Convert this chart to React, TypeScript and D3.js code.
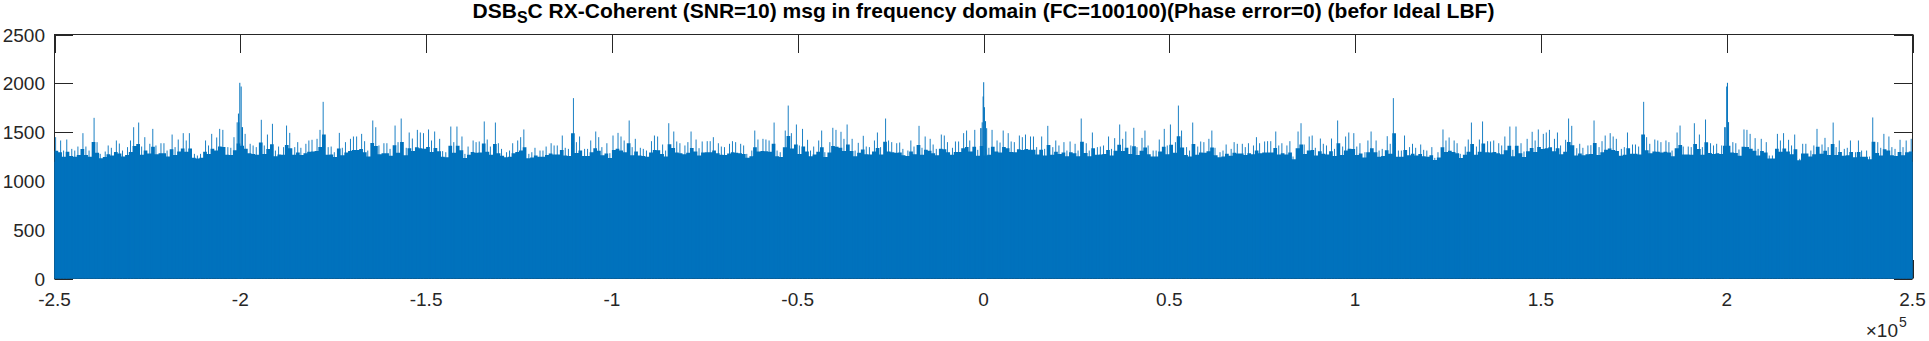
import React from 'react';
import * as d3 from 'd3';

// ---------- text ----------
const titleMain = 'DSB';
const titleSub = 'S';
const titleRest = 'C RX-Coherent (SNR=10) msg in frequency domain (FC=100100)(Phase error=0) (befor Ideal LBF)';

// ---------- axes ----------
const xTickValues = [-2.5, -2, -1.5, -1, -0.5, 0, 0.5, 1, 1.5, 2, 2.5]; // x 1e5 Hz
const xTickLabels = ['-2.5', '-2', '-1.5', '-1', '-0.5', '0', '0.5', '1', '1.5', '2', '2.5'];
const yTickValues = [0, 500, 1000, 1500, 2000, 2500];
const yTickLabels = ['0', '500', '1000', '1500', '2000', '2500'];

// ---------- data ----------
// maximum |X(f)| seen in each 1 kHz bin, from -250 kHz to +250 kHz
const binStartKHz = -250;
const binWidthKHz = 1;
const binMax = [
  1448, 1414, 1311, 1424, 1328, 1311, 1352, 1489, 1352, 1311,
  1646, 1397, 1277, 1301, 1363, 1339, 1414, 1383, 1311, 1346,
  1414, 1550, 1598, 1352, 1448, 1380, 1533, 1363, 1386, 1386,
  1311, 1475, 1346, 1424, 1489, 1414, 1489, 1277, 1260, 1277,
  1414, 1363, 1482, 1445, 1533, 1523, 1346, 1339, 1448, 1600,
  1550, 1482, 1380, 1363, 1346, 1626, 1363, 1475, 1585, 1311,
  1352, 1346, 1567, 1492, 1346, 1397, 1339, 1380, 1414, 1421,
  1431, 1523, 1810, 1346, 1352, 1294, 1492, 1339, 1397, 1431,
  1455, 1455, 1482, 1407, 1311, 1619, 1550, 1363, 1386, 1386,
  1328, 1567, 1397, 1639, 1339, 1496, 1434, 1523, 1496, 1489,
  1527, 1414, 1506, 1431, 1305, 1294, 1557, 1397, 1557, 1455,
  1277, 1352, 1414, 1397, 1404, 1609, 1424, 1352, 1598, 1386,
  1328, 1294, 1311, 1386, 1414, 1448, 1527, 1277, 1294, 1339,
  1311, 1311, 1352, 1386, 1363, 1363, 1465, 1339, 1328, 1848,
  1397, 1455, 1328, 1328, 1414, 1506, 1448, 1346, 1386, 1284,
  1465, 1492, 1455, 1414, 1619, 1346, 1431, 1339, 1328, 1311,
  1407, 1465, 1455, 1373, 1311, 1591, 1506, 1404, 1386, 1363,
  1397, 1506, 1424, 1335, 1404, 1407, 1407, 1448, 1386, 1352,
  1346, 1380, 1407, 1397, 1380, 1363, 1277, 1311, 1516, 1424,
  1431, 1424, 1414, 1598, 1311, 1294, 1516, 1772, 1489, 1578,
  1363, 1533, 1421, 1311, 1352, 1414, 1516, 1294, 1397, 1544,
  1523, 1503, 1431, 1578, 1431, 1311, 1390, 1462, 1352, 1346,
  1414, 1496, 1346, 1639, 1414, 1397, 1386, 1393, 1328, 1311,
  1414, 1352, 1564, 1339, 1455, 1431, 1373, 1328, 1475, 1465,
  1397, 1339, 1404, 1404, 1489, 1516, 1414, 1523, 1318, 1540,
  1322, 1339, 1523, 1414, 1393, 1516, 1489, 1404, 1397, 1465,
  1448, 1475, 1455, 1455, 1346, 1455, 1328, 1564, 1346, 1414,
  1363, 1397, 1311, 1404, 1380, 1311, 1639, 1386, 1311, 1496,
  1346, 1352, 1363, 1455, 1328, 1438, 1578, 1431, 1506, 1363,
  1544, 1346, 1441, 1516, 1363, 1311, 1311, 1424, 1533, 1363,
  1578, 1397, 1772, 1516, 1346, 1311, 1598, 1352, 1404, 1397,
  1431, 1516, 1339, 1294, 1311, 1373, 1328, 1397, 1380, 1380,
  1346, 1386, 1363, 1448, 1386, 1404, 1407, 1407, 1506, 1363,
  1386, 1363, 1407, 1250, 1506, 1591, 1373, 1455, 1465, 1339,
  1434, 1380, 1363, 1434, 1328, 1619, 1352, 1455, 1496, 1489,
  1352, 1386, 1294, 1414, 1506, 1414, 1311, 1328, 1458, 1380,
  1848, 1311, 1311, 1465, 1346, 1380, 1339, 1373, 1318, 1311,
  1346, 1236, 1294, 1527, 1414, 1445, 1414, 1386, 1277, 1352,
  1424, 1598, 1352, 1424, 1609, 1407, 1404, 1414, 1386, 1363,
  1455, 1557, 1318, 1557, 1386, 1301, 1431, 1503, 1414, 1527,
  1482, 1496, 1523, 1431, 1496, 1363, 1421, 1639, 1564, 1335,
  1380, 1339, 1363, 1366, 1619, 1346, 1407, 1465, 1489, 1455,
  1431, 1328, 1346, 1496, 1373, 1373, 1352, 1810, 1448, 1380,
  1424, 1414, 1397, 1414, 1397, 1311, 1496, 1567, 1352, 1352,
  1346, 1591, 1475, 1346, 1629, 1386, 1363, 1380, 1363, 1550,
  1550, 1397, 1386, 1322, 1527, 1523, 1482, 1438, 1328, 1431,
  1397, 1260, 1260, 1482, 1414, 1489, 1421, 1363, 1475, 1226,
  1380, 1380, 1311, 1363, 1533, 1373, 1441, 1346, 1598, 1346,
  1414, 1328, 1339, 1414, 1294, 1414, 1311, 1311, 1250, 1650,
  1397, 1339, 1482, 1455, 1346, 1328, 1421, 1346, 1414, 1431,
];

// level below which the spectrum is a solid band
const solidFreqKHz = [-250, -200, -150, -100, -50, 0, 50, 100, 150, 200, 250];
const solidTop = [1195, 1205, 1200, 1195, 1205, 1210, 1200, 1195, 1200, 1205, 1195];

// the strong tones at -200 kHz, 0 and +200 kHz
const peakFreqKHz = [-200.84, -200.5, -200.13, -199.77, -199.4, -0.7, -0.35, -0.1, 0.05, 0.25, 0.55, 0.85, 199.6, 200.0, 200.2, 200.5];
const peakMag = [1600, 1690, 2005, 1967, 1550, 1540, 1600, 1865, 2011, 1755, 1612, 1540, 1550, 1967, 2005, 1602];

// ---------- layout / style ----------
const W = 1929;
const H = 341;
const L = 54.5;
const R = 1912.5;
const T = 34.5;
const B = 278.5;
const TICK = 18.5;
const BLUE = '#0072BD';
const AX = '#262626';
const FONT = '"Liberation Sans", Arial, Helvetica, sans-serif';
const DENSE_SHARE = 0.45; // how much of each bin's excursion is drawn as the dense part of the band

export default function App() {
  const x = d3.scaleLinear().domain([-250000, 250000]).range([L, R]);
  const y = d3.scaleLinear().domain([0, 2500]).range([B, T]);
  const solidAt = d3
    .scaleLinear()
    .domain(solidFreqKHz.map((f) => f * 1000))
    .range(solidTop);

  let barsPath = '';
  let linesPath = '';
  binMax.forEach((v, i) => {
    const f0 = (binStartKHz + i * binWidthKHz) * 1000;
    const f1 = f0 + binWidthKHz * 1000;
    const fc = (f0 + f1) / 2;
    const base = solidAt(fc);
    const dense = base + (v - base) * DENSE_SHARE;
    const xa = x(f0);
    const xb = x(f1);
    barsPath += `M${xa.toFixed(2)},${y(0)}V${y(dense).toFixed(2)}H${xb.toFixed(2)}V${y(0)}Z`;
    const xl = x(f0 + (i % 3 === 0 ? 0.3 : i % 3 === 1 ? 0.65 : 0.45) * binWidthKHz * 1000);
    linesPath += `M${xl.toFixed(2)},${y(0)}V${y(v).toFixed(2)}`;
  });
  let peakPath = '';
  peakFreqKHz.forEach((f, i) => {
    peakPath += `M${x(f * 1000).toFixed(2)},${y(0)}V${y(peakMag[i]).toFixed(2)}`;
  });

  const area = d3
    .area<number>()
    .x((_, i) => x(solidFreqKHz[i] * 1000))
    .y0(() => y(0))
    .y1((d) => y(d))
    .curve(d3.curveLinear);

  return (
    <svg
      width={W}
      height={H}
      viewBox={`0 0 ${W} ${H}`}
      style={{ position: 'absolute', left: 0, top: 0, background: '#fff', display: 'block' }}
    >
      <rect x={0} y={0} width={W} height={H} fill="#fff" />
      {/* axes box and ticks (beneath the data, as MATLAB draws them) */}
      <g stroke={AX} strokeWidth={1} fill="none">
        <rect x={L} y={T} width={R - L} height={B - T} />
        {xTickValues.map((t) => (
          <g key={'xt' + t}>
            <line x1={Math.round(x(t * 1e5)) + 0.5} x2={Math.round(x(t * 1e5)) + 0.5} y1={T} y2={T + TICK} />
            <line x1={Math.round(x(t * 1e5)) + 0.5} x2={Math.round(x(t * 1e5)) + 0.5} y1={B} y2={B - TICK} />
          </g>
        ))}
        {yTickValues.map((t) => (
          <g key={'yt' + t}>
            <line x1={L} x2={L + TICK} y1={Math.round(y(t)) + 0.5} y2={Math.round(y(t)) + 0.5} />
            <line x1={R} x2={R - TICK} y1={Math.round(y(t)) + 0.5} y2={Math.round(y(t)) + 0.5} />
          </g>
        ))}
      </g>

      {/* data */}
      <path d={area(solidTop) || ''} fill={BLUE} stroke="none" />
      <path d={barsPath} fill={BLUE} stroke="none" />
      <path d={linesPath} stroke={BLUE} strokeWidth={0.9} fill="none" />
      <path d={peakPath} stroke={BLUE} strokeWidth={1} fill="none" />

      {/* tick labels */}
      <g fontFamily={FONT} fontSize={19} fill={AX}>
        {xTickValues.map((t, i) => (
          <text key={'xl' + t} x={x(t * 1e5)} y={306} textAnchor="middle">
            {xTickLabels[i]}
          </text>
        ))}
        {yTickValues.map((t, i) => (
          <text key={'yl' + t} x={45} y={y(t) + 7} textAnchor="end">
            {yTickLabels[i]}
          </text>
        ))}
        <text x={1898} y={337} textAnchor="end">
          {'\u00d710'}
        </text>
        <text x={1899} y={327} fontSize={14}>
          5
        </text>
      </g>

      {/* title */}
      <text x={(L + R) / 2} y={18} textAnchor="middle" fontFamily={FONT} fontWeight="bold" fontSize={21} fill="#000">
        {titleMain}
        <tspan fontSize={16} dy={5}>
          {titleSub}
        </tspan>
        <tspan dy={-5}>{titleRest}</tspan>
      </text>
    </svg>
  );
}
